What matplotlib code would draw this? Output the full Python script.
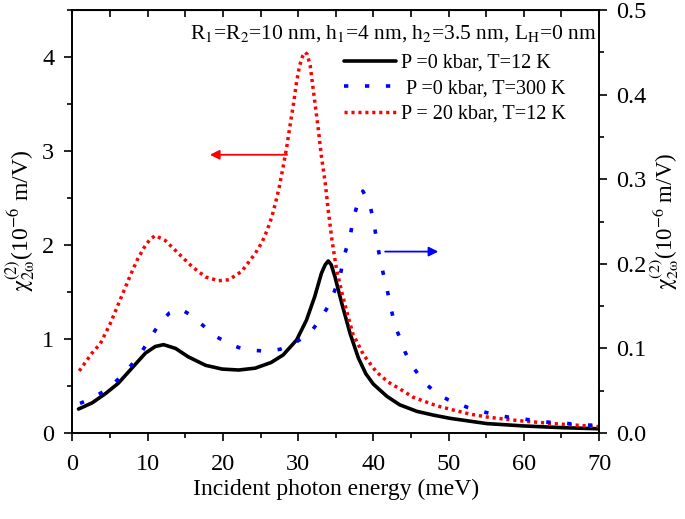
import matplotlib
matplotlib.use("Agg")
import matplotlib.pyplot as plt
from matplotlib.ticker import MultipleLocator, FormatStrFormatter

plt.rcParams['font.family'] = ['Liberation Serif', 'DejaVu Serif']
plt.rcParams['mathtext.fontset'] = 'stix'

# P=0 kbar, T=12 K (left axis)
x_black = [0.8, 2.6, 4.4, 6.1, 7.9, 9.7, 11.0, 12.1, 13.7, 15.4, 17.7, 19.9, 22.1, 24.3, 26.4, 28.0,
           29.8, 31.1, 32.2, 33.1, 33.6, 34.0, 34.4, 34.9, 35.8, 36.9, 38.0, 39.0, 40.0, 41.8, 43.5,
           45.8, 48.0, 50.2, 55.1, 60, 65, 70]
y_black = [0.255, 0.32, 0.42, 0.53, 0.69, 0.85, 0.92, 0.94, 0.90, 0.81, 0.72, 0.68, 0.67, 0.69, 0.75,
           0.83, 0.99, 1.20, 1.45, 1.70, 1.79, 1.83, 1.79, 1.66, 1.38, 1.06, 0.80, 0.63, 0.52, 0.39,
           0.30, 0.23, 0.19, 0.156, 0.10, 0.075, 0.057, 0.045]

# P=0 kbar, T=300 K (right axis)
x_blue = [1.0, 2.6, 4.1, 5.4, 6.6, 7.8, 9.0, 10.6, 11.7, 12.9, 14.3, 15.8, 17.1, 19.1, 20.5, 22.1,
          23.7, 25.9, 27.6, 29.1, 30.7, 32.0, 33.2, 34.2, 35.1, 35.6, 36.2, 36.9, 37.3, 37.9, 38.6,
          39.5, 40.0, 40.4, 40.8, 41.3, 41.8, 42.3, 42.9, 43.5, 44.2, 45.1, 46.0, 47.1, 48.4, 50.0,
          52.6, 54.2, 56.0, 57.8, 59.9, 61.3, 63.0, 64.8, 66.6, 68.6, 70]
y_blue = [0.035, 0.041, 0.049, 0.058, 0.068, 0.080, 0.093, 0.116, 0.131, 0.142, 0.147, 0.139, 0.129,
          0.114, 0.107, 0.101, 0.098, 0.0966, 0.099, 0.104, 0.113, 0.123, 0.138, 0.153, 0.174, 0.187,
          0.212, 0.232, 0.252, 0.271, 0.286, 0.271, 0.252, 0.230, 0.210, 0.189, 0.171, 0.149, 0.126,
          0.113, 0.096, 0.080, 0.069, 0.057, 0.047, 0.039, 0.030, 0.026, 0.022, 0.019, 0.0166, 0.015,
          0.013, 0.0118, 0.0107, 0.0094, 0.0089]

# P=20 kbar, T=12 K (left axis)
x_red = [0.9, 2.6, 3.7, 5.0, 6.3, 7.6, 8.6, 9.5, 10.3, 11.0, 12.3, 14.1, 15.9, 17.7, 19.4, 20.8,
         22.5, 24.3, 25.2, 25.9, 26.5, 27.0, 27.5, 28.0, 28.5, 28.9, 29.4, 29.8, 30.2, 30.6, 30.9,
         31.2, 31.6, 31.9, 32.3, 32.7, 33.1, 33.6, 34.0, 34.5, 35.1, 35.8, 36.5, 37.3, 38.7, 40.4,
         42.0, 43.5, 45.3, 48.4, 50.6, 52.9, 55.1, 57.3, 59.5, 63.9, 70]
y_red = [0.66, 0.85, 0.95, 1.16, 1.41, 1.66, 1.84, 1.97, 2.06, 2.10, 2.05, 1.91, 1.77, 1.66, 1.62,
         1.63, 1.72, 1.91, 2.03, 2.16, 2.30, 2.45, 2.62, 2.83, 3.05, 3.26, 3.51, 3.74, 3.91, 4.01,
         4.05, 4.03, 3.91, 3.72, 3.47, 3.22, 2.94, 2.66, 2.37, 2.05, 1.74, 1.50, 1.28, 1.05, 0.83,
         0.65, 0.54, 0.47, 0.38, 0.29, 0.245, 0.20, 0.17, 0.149, 0.13, 0.10, 0.067]

labels = ["P =0 kbar, T=12 K", " P =0 kbar, T=300 K", "P = 20 kbar, T=12 K"]
annot = r"R$_1$=R$_2$=10 nm, h$_1$=4 nm, h$_2$=3.5 nm, L$_\mathrm{H}$=0 nm"
ylab = r"$\mathrm{\chi}^{(2)}_{2\mathrm{\omega}}$(10$^{-6}$ m/V)"

fig = plt.figure(figsize=(6.85, 5.19), dpi=100)
ax = fig.add_axes([0.1058, 0.1657, 0.7687, 0.815])
ax2 = ax.twinx()

l1, = ax.plot(x_black, y_black, color='black', lw=2.6, solid_joinstyle='round', solid_capstyle='round')
l3, = ax.plot(x_red, y_red, color='#ff0000', lw=2.5, linestyle=(0, (0.9, 1.1)))
l2, = ax2.plot(x_blue, y_blue, color='#0000ff', lw=2.6, linestyle=(0, (1.2, 4.6)))

ax.set_xlim(0, 70)
ax.set_ylim(0, 4.5)
ax2.set_ylim(0, 0.5)

ax.xaxis.set_major_locator(MultipleLocator(10))
ax.xaxis.set_minor_locator(MultipleLocator(5))
ax.yaxis.set_major_locator(MultipleLocator(1))
ax.yaxis.set_minor_locator(MultipleLocator(0.5))
ax2.yaxis.set_major_locator(MultipleLocator(0.1))
ax2.yaxis.set_minor_locator(MultipleLocator(0.05))
ax2.yaxis.set_major_formatter(FormatStrFormatter('%.1f'))

for a in (ax, ax2):
    a.tick_params(which='major', length=6, width=1.2, labelsize=17.5, direction='out', pad=7)
    a.tick_params(which='minor', length=3.5, width=1.2, direction='out')
    for s in a.spines.values():
        s.set_linewidth(1.2)
ax.tick_params(axis='x', which='major', pad=9)
ax2.tick_params(axis='y', which='major', pad=6)

sec = ax.secondary_xaxis('top')
sec.set_xticks(list(range(0, 71, 5)))
sec.tick_params(direction='in', length=5, width=1.2, labeltop=False)

ax.set_xlabel("Incident photon energy (meV)", fontsize=17, labelpad=3)
ax.set_ylabel(ylab, fontsize=17, labelpad=4)
ax2.set_ylabel(ylab, fontsize=16.5, labelpad=1)

ax.text(0.995, 0.945, annot, transform=ax.transAxes, ha='right', va='center', fontsize=15.5)

leg = ax.legend([l1, l2, l3], labels, loc='upper right', bbox_to_anchor=(0.96, 0.925),
                frameon=False, fontsize=14.5, handlelength=2.6, handletextpad=0.25,
                labelspacing=0.32, borderaxespad=0.2)

ax.annotate('', xy=(17.9, 2.96), xytext=(28.9, 2.96),
            arrowprops=dict(arrowstyle='-|>', color='#ff0000', lw=1.3, mutation_scale=14))
ax.annotate('', xy=(49.0, 1.93), xytext=(41.2, 1.93),
            arrowprops=dict(arrowstyle='-|>', color='#0000ff', lw=1.3, mutation_scale=14))

fig.savefig("out.png", dpi=100)
